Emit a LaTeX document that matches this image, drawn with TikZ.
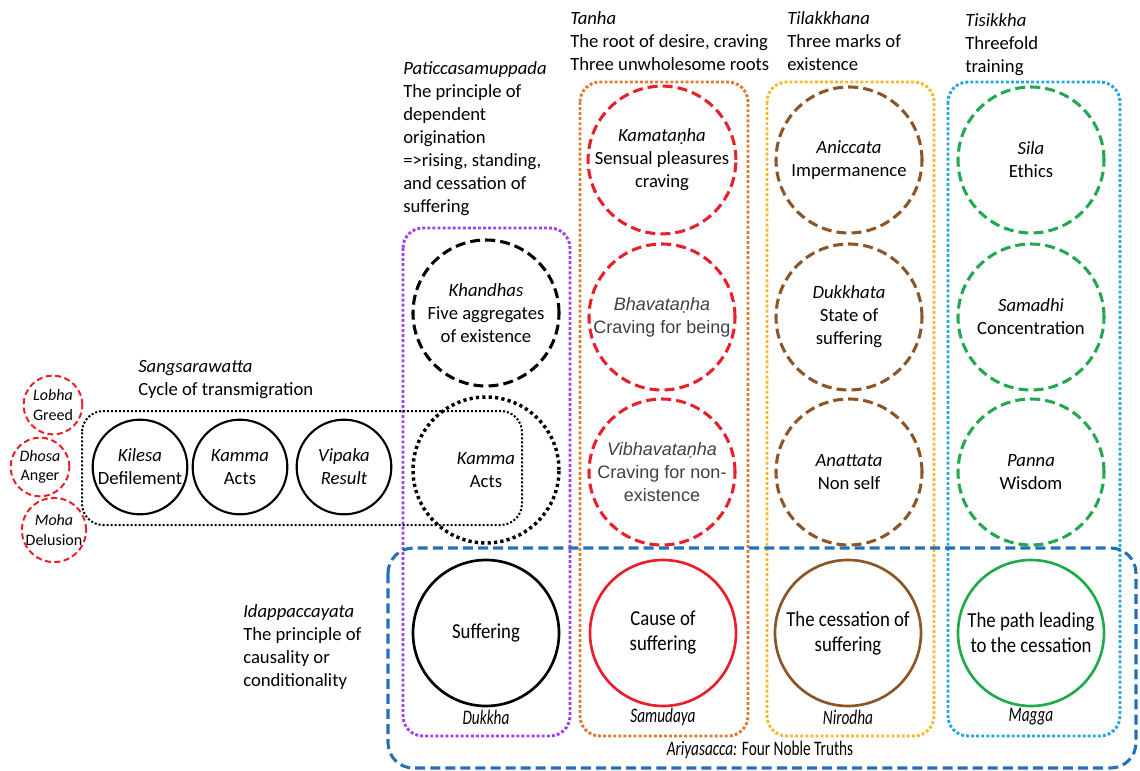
\documentclass[tikz,border=0pt]{standalone}
\usepackage{fontspec}
\setmainfont{Carlito}
\newfontfamily\arialfont{Liberation Sans}
\newfontfamily\condfont[FakeStretch=0.88]{Carlito}
\newfontfamily\narrowfont[FakeStretch=0.74]{Carlito}
\definecolor{cRed}{HTML}{E8202A}
\definecolor{cBrown}{HTML}{8B5526}
\definecolor{cGreen}{HTML}{22A94F}
\definecolor{cPurple}{HTML}{A040F0}
\definecolor{cOrange}{HTML}{E07A2E}
\definecolor{cYellow}{HTML}{F7B928}
\definecolor{cCyan}{HTML}{23A6E2}
\definecolor{cBlue}{HTML}{2470B8}
\definecolor{cGrayText}{HTML}{404040}
\begin{document}
\begin{tikzpicture}[x=0.75pt,y=-0.75pt,
  txt/.style={font=\fontsize{14}{17.25}\selectfont, align=center, text=black},
  hdr/.style={font=\fontsize{14}{17.25}\selectfont, align=left, anchor=north west, inner sep=0pt},
  bigc/.style={circle, minimum size=109.5pt, inner sep=0pt, txt},
  midc/.style={circle, minimum size=71pt, inner sep=0pt, txt, draw=black, line width=1.6pt},
  smallc/.style={circle, minimum size=44pt, inner sep=0pt, align=center,
    font=\fontsize{12}{14.5}\selectfont, draw=cRed, line width=1.5pt, dash pattern=on 4.5pt off 2.6pt},
  dashc/.style={draw=#1, line width=2.3pt, dash pattern=on 7.5pt off 3.8pt},
  solidc/.style={draw=#1, line width=2pt, font=\condfont\fontsize{16}{18.75}\selectfont},
  dotbox/.style={draw=#1, line width=2.2pt, dash pattern=on 2.2pt off 1.6pt, rounded corners=15pt},
  lbl/.style={font=\narrowfont\fontsize{15.5}{17.25}\selectfont\itshape, inner sep=0pt}
]
\useasboundingbox (0,0) rectangle (1140,771);

% column frames
\draw[dotbox=cPurple] (403,228) rectangle (570,736);
\draw[dotbox=cOrange] (580,82) rectangle (748,736);
\draw[dotbox=cYellow] (767,82) rectangle (934,736);
\draw[dotbox=cCyan] (948,82) rectangle (1120,736);

% headers
\node[hdr] (hPat) at (403,61) {\textit{Paticcasamuppada}\\The principle of\\dependent\\origination\\=>rising, standing,\\and cessation of\\suffering};
\node[hdr] (hTan) at (570,11) {\textit{Tanha}\\The root of desire, craving\\Three unwholesome roots};
\node[hdr] (hTil) at (787,11) {\textit{Tilakkhana}\\Three marks of\\existence};
\node[hdr] (hTis) at (965,13) {\textit{Tisikkha}\\Threefold\\training};
\node[hdr] (hSan) at (138,360) {\textit{Sangsarawatta}\\Cycle of transmigration};
\node[hdr] (hIda) at (243,604) {\textit{Idappaccayata}\\The principle of\\causality or\\conditionality};

% cycle of transmigration
\draw[draw=black, line width=1.5pt, dash pattern=on 1.5pt off 1.5pt, rounded corners=16pt] (82,411) rectangle (522,525);
\node[midc] (kilesa) at (140,467) {\textit{Kilesa}\\Defilement};
\node[midc] (kamma1) at (240,467) {\textit{Kamma}\\Acts};
\node[midc] (vipaka) at (344,467) {\textit{Vipaka}\\\textit{Result}};

% three unwholesome roots
\node[smallc] (lobha) at (53,405) {\textit{Lobha}\\Greed};
\node[smallc] (dhosa) at (40,467) {\textit{Dhosa}\\Anger};
\node[smallc] (moha) at (54,530) {\textit{Moha}\\Delusion};

% Dukkha column
\node[bigc, dashc=black] (khandhas) at (486,313) {\textit{Khandhas}\\Five aggregates\\of existence};
\node[bigc, draw=black, line width=2.6pt, dash pattern=on 2.4pt off 2.4pt] (kamma2) at (486,470) {\textit{Kamma}\\Acts};

% Samudaya column
\node[bigc, dashc=cRed] (kamat) at (662,160) {\textit{Kamataṇha}\\Sensual pleasures\\craving};
\node[bigc, dashc=cRed, font=\arialfont\fontsize{13.5}{17.25}\selectfont, text=cGrayText] (bhava) at (662,317) {\textit{Bhavataṇha}\\Craving for being};
\node[bigc, dashc=cRed, font=\arialfont\fontsize{13.5}{17.25}\selectfont, text=cGrayText] (vibhava) at (662,472) {\textit{Vibhavataṇha}\\Craving for non-\\existence};

% Nirodha column
\node[bigc, dashc=cBrown] (anicca) at (849,160) {\textit{Aniccata}\\Impermanence};
\node[bigc, dashc=cBrown] (dukkhata) at (849,317) {\textit{Dukkhata}\\State of\\suffering};
\node[bigc, dashc=cBrown] (anatta) at (849,472) {\textit{Anattata}\\Non self};

% Magga column
\node[bigc, dashc=cGreen] (sila) at (1031,160) {\textit{Sila}\\Ethics};
\node[bigc, dashc=cGreen] (samadhi) at (1031,317) {\textit{Samadhi}\\Concentration};
\node[bigc, dashc=cGreen] (panna) at (1031,472) {\textit{Panna}\\Wisdom};

% four noble truths
\draw[draw=cBlue, line width=2.3pt, dash pattern=on 7.5pt off 3.8pt, rounded corners=19pt] (388,548) rectangle (1136,768);
\node[bigc, solidc=black] (suffer) at (486,633) {Suffering};
\node[bigc, solidc=cRed] (cause) at (663,633) {Cause of\\suffering};
\node[bigc, solidc=cBrown] (cess) at (848,633) {The cessation of\\suffering};
\node[bigc, solidc=cGreen] (path) at (1031,633) {The path leading\\to the cessation};

\node[lbl] (lDuk) at (486,717) {Dukkha};
\node[lbl] (lSam) at (663,717) {Samudaya};
\node[lbl] (lNir) at (848,717) {Nirodha};
\node[lbl] (lMag) at (1031,717) {Magga};
\node[font=\narrowfont\fontsize{15.5}{17.25}\selectfont, inner sep=0pt] (lAri) at (760,750) {\textit{Ariyasacca:} Four Noble Truths};
\end{tikzpicture}
\end{document}
